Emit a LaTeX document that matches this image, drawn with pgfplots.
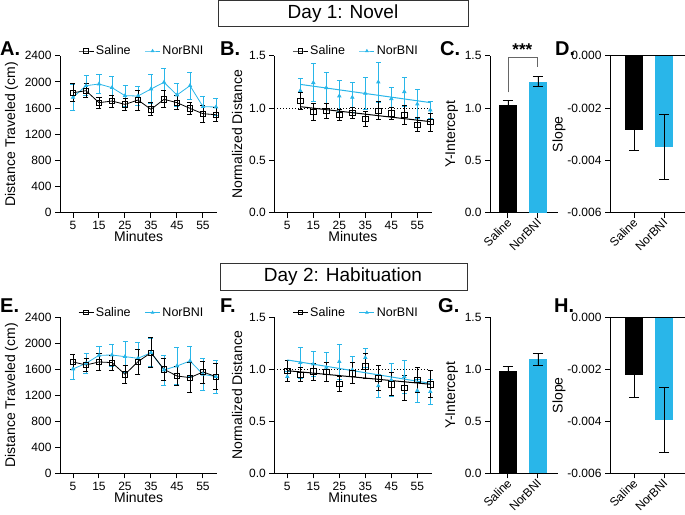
\documentclass[border=0pt]{standalone}
\usepackage{fontspec}
\setmainfont{Liberation Sans}
\usepackage{pgfplots}
\pgfplotsset{compat=1.18}
\usepackage{pgfplotstable}
\definecolor{nb}{RGB}{41,182,233}

\pgfplotstableread{
x y e
5 1834 140
10 1865 110
15 1682 85
20 1707 90
25 1656 95
30 1722 155
35 1580 100
40 1733 130
45 1682 105
50 1595 90
55 1513 125
60 1498 105
}\ASal
\pgfplotstableread{
x y e
5 1763 200
10 1942 150
15 1967 150
20 1911 165
25 1789 160
30 1784 150
35 1891 220
40 1993 210
45 1799 170
50 1942 210
55 1621 150
60 1616 130
}\ANor
\pgfplotstableread{
x y e
10 1.067 0.08
15 0.965 0.08
20 0.971 0.07
25 0.933 0.05
30 0.955 0.05
35 0.895 0.07
40 0.975 0.085
45 0.949 0.06
50 0.933 0.09
55 0.841 0.065
60 0.866 0.085
}\BSal
\pgfplotstableread{
x y e
10 1.166 0.12
15 1.242 0.18
20 1.194 0.15
25 1.115 0.15
30 1.102 0.14
35 1.140 0.15
40 1.248 0.19
45 1.089 0.11
50 1.156 0.14
55 1.038 0.14
60 0.981 0.08
}\BNor
\pgfplotstableread{
x y e
5 1713 120
10 1667 100
15 1713 125
20 1703 115
25 1523 140
30 1718 190
35 1856 230
40 1600 165
45 1497 150
50 1472 230
55 1559 170
60 1487 200
}\ESal
\pgfplotstableread{
x y e
5 1605 155
10 1692 150
15 1815 140
20 1820 170
25 1795 235
30 1769 240
35 1856 215
40 1590 230
45 1651 280
50 1728 230
55 1523 250
60 1487 250
}\ENor
\pgfplotstableread{
x y e
5 0.987 0.10
10 0.949 0.07
15 0.978 0.08
20 0.974 0.09
25 0.859 0.075
30 0.962 0.10
35 1.029 0.12
40 0.913 0.12
45 0.856 0.11
50 0.824 0.12
55 0.897 0.12
60 0.856 0.13
}\FSal
\pgfplotstableread{
x y e
5 0.929 0.05
10 1.064 0.15
15 1.051 0.12
20 1.019 0.14
25 1.074 0.17
30 0.994 0.13
35 1.112 0.09
40 0.840 0.11
45 0.897 0.16
50 0.929 0.16
55 0.795 0.11
60 0.785 0.12
}\FNor

\pgfplotsset{
  gp/.style={scale only axis, axis lines=left, axis line style={-, line width=1pt},
    tick align=outside, major tick length=5pt, tick style={line width=1pt, black},
    font=\fontsize{12}{14}\selectfont,
    label style={font=\fontsize{14}{16}\selectfont},
    /pgf/number format/assume math mode=true, /pgf/number format/1000 sep={},
    clip=false, scaled y ticks=false},
  lineplot/.style={gp, width=157.3pt, xmin=0, xmax=60.5, xtick={5,15,...,55},
    xlabel={Minutes}, xlabel style={yshift=5pt},
    legend style={draw=none, fill=none, at={(0.52,1.03)}, anchor=center,
      legend columns=2, font=\fontsize{12.5}{14}\selectfont,
      /tikz/every even column/.append style={column sep=12pt}},
    legend cell align=left,
    legend image code/.code={\draw[mark repeat=2, mark phase=2, ##1]
      plot coordinates {(0pt,0pt) (7.5pt,0pt) (15pt,0pt)};}},
  barplot/.style={gp, xtick={0,1}, xticklabels={Saline,NorBNI},
    xticklabel style={rotate=45, anchor=east, inner sep=1pt, yshift=-3pt},
    ybar, bar width=18pt, bar shift=0pt},
  salline/.style={black, line width=0.8pt, mark=square, mark size=2.7pt,
    mark options={fill=white, solid}},
  norline/.style={nb, line width=0.8pt, mark=triangle*, mark size=1.8pt,
    mark options={fill=nb, solid}},
  sallegend/.style={black, line width=0.8pt, mark=square, mark size=2.2pt,
    mark options={fill=white, solid}},
  norlegend/.style={nb, line width=0.8pt, mark=triangle*, mark size=1.4pt,
    mark options={fill=nb, solid}},
  ebars/.style={error bars/.cd, y dir=both, y explicit,
    error bar style={line width=0.8pt},
    error mark options={rotate=90, mark size=2.5pt, line width=0.8pt}},
  bebars/.style={error bars/.cd, y dir=both, y explicit,
    error bar style={line width=0.8pt, black},
    error mark options={rotate=90, mark size=5pt, line width=0.8pt, black}},
}

\begin{document}
\begin{tikzpicture}[x=1pt,y=1pt]
\useasboundingbox (0,0) rectangle (685,-514);

% titles
\draw[line width=0.8pt, black!80] (218,-0.7) rectangle (468,-26);
\node[font=\fontsize{19}{22}\selectfont] at (343,-13.5) {Day 1: Novel};
\draw[line width=0.8pt, black!80] (220,-263.3) rectangle (467,-290);
\node[font=\fontsize{19}{22}\selectfont] at (343,-277) {Day 2: Habituation};

% panel letters
\foreach \l/\x/\y in {A/0/55,B/220/55,C/440/55,D/555/55,E/0/312,F/220/312,G/438/312,H/554/312}
  \node[anchor=base west, inner sep=0pt, font=\fontsize{20}{22}\selectfont\bfseries] at (\x,-\y) {\l.};

% ---------- A ----------
\begin{axis}[lineplot, at={(60pt,-212.7pt)}, anchor=south west, height=157pt,
  ymin=0, ymax=2400, ytick={0,400,...,2400}, ylabel={Distance Traveled (cm)}]
\addlegendimage{sallegend}\addlegendentry{Saline}
\addlegendimage{norlegend}\addlegendentry{NorBNI}
\addplot[norline, forget plot, ebars] table[x=x,y=y,y error=e] {\ANor};
\addplot[salline, forget plot, ebars] table[x=x,y=y,y error=e] {\ASal};
\end{axis}

% ---------- B ----------
\begin{axis}[lineplot, at={(274.3pt,-212.7pt)}, anchor=south west, height=157pt,
  ymin=0, ymax=1.5, ytick={0,0.5,1,1.5}, ylabel={Normalized Distance},
  yticklabel style={/pgf/number format/.cd, fixed, fixed zerofill, precision=1}]
\addlegendimage{sallegend}\addlegendentry{Saline}
\addlegendimage{norlegend}\addlegendentry{NorBNI}
\addplot[black, dotted, line width=1pt, forget plot] coordinates {(0,1) (60,1)};
\addplot[norline, only marks, forget plot, ebars] table[x=x,y=y,y error=e] {\BNor};
\addplot[salline, only marks, forget plot, ebars] table[x=x,y=y,y error=e] {\BSal};
\addplot[nb, line width=1pt, forget plot] coordinates {(10,1.226) (60,1.052)};
\addplot[black, line width=1pt, forget plot] coordinates {(10,1.013) (60,0.870)};
\end{axis}

% ---------- C ----------
\begin{axis}[barplot, at={(490pt,-212.7pt)}, anchor=south west, width=68pt, height=157pt,
  xmin=-0.6, xmax=1.67, ymin=0, ymax=1.5, ytick={0,0.5,1,1.5}, ylabel={Y-Intercept},
  yticklabel style={/pgf/number format/.cd, fixed, fixed zerofill, precision=1}]
\addplot[fill=black, draw=none, bebars] coordinates {(0,1.029) +- (0,0.04)};
\addplot[fill=nb, draw=none, bebars] coordinates {(1,1.252) +- (0,0.05)};
\draw[line width=0.9pt, black!60] (axis cs:0,1.15) -- (axis cs:0,1.48) -- (axis cs:1,1.48) -- (axis cs:1,1.39);
\node[font=\fontsize{17}{18}\selectfont\bfseries] at (axis cs:0.48,1.555) {***};
\end{axis}

% ---------- D ----------
\begin{axis}[barplot, at={(610pt,-212.7pt)}, anchor=south west, width=75pt, height=157pt,
  xmin=-0.8, xmax=1.7, ymin=-0.006, ymax=0, ytick={-0.006,-0.004,-0.002,0}, ylabel={Slope},
  ylabel style={xshift=0pt, yshift=-5pt},
  yticklabel style={/pgf/number format/.cd, fixed, fixed zerofill, precision=3}]
\addplot[fill=black, draw=none, bebars] coordinates {(0,-0.00284) +- (0,0.00078)};
\addplot[fill=nb, draw=none, bebars] coordinates {(1,-0.00348) +- (0,0.00125)};
\draw[line width=1pt] (rel axis cs:0,1) -- (rel axis cs:1,1);
\end{axis}

% ---------- E ----------
\begin{axis}[lineplot, at={(60pt,-473.3pt)}, anchor=south west, height=156pt,
  ymin=0, ymax=2400, ytick={0,400,...,2400}, ylabel={Distance Traveled (cm)}]
\addlegendimage{sallegend}\addlegendentry{Saline}
\addlegendimage{norlegend}\addlegendentry{NorBNI}
\addplot[norline, forget plot, ebars] table[x=x,y=y,y error=e] {\ENor};
\addplot[salline, forget plot, ebars] table[x=x,y=y,y error=e] {\ESal};
\end{axis}

% ---------- F ----------
\begin{axis}[lineplot, at={(274.3pt,-473.3pt)}, anchor=south west, height=156pt,
  ymin=0, ymax=1.5, ytick={0,0.5,1,1.5}, ylabel={Normalized Distance},
  yticklabel style={/pgf/number format/.cd, fixed, fixed zerofill, precision=1}]
\addlegendimage{sallegend}\addlegendentry{Saline}
\addlegendimage{norlegend}\addlegendentry{NorBNI}
\addplot[black, dotted, line width=1pt, forget plot] coordinates {(0,1) (60,1)};
\addplot[norline, only marks, forget plot, ebars] table[x=x,y=y,y error=e] {\FNor};
\addplot[salline, only marks, forget plot, ebars] table[x=x,y=y,y error=e] {\FSal};
\addplot[nb, line width=1pt, forget plot] coordinates {(5,1.09) (60,0.865)};
\addplot[black, line width=1pt, forget plot] coordinates {(5,0.987) (60,0.856)};
\end{axis}

% ---------- G ----------
\begin{axis}[barplot, at={(490pt,-473.3pt)}, anchor=south west, width=68pt, height=156pt,
  xmin=-0.6, xmax=1.67, ymin=0, ymax=1.5, ytick={0,0.5,1,1.5}, ylabel={Y-Intercept},
  yticklabel style={/pgf/number format/.cd, fixed, fixed zerofill, precision=1}]
\addplot[fill=black, draw=none, bebars] coordinates {(0,0.987) +- (0,0.04)};
\addplot[fill=nb, draw=none, bebars] coordinates {(1,1.096) +- (0,0.055)};
\end{axis}

% ---------- H ----------
\begin{axis}[barplot, at={(610pt,-473.3pt)}, anchor=south west, width=75pt, height=156pt,
  xmin=-0.8, xmax=1.7, ymin=-0.006, ymax=0, ytick={-0.006,-0.004,-0.002,0}, ylabel={Slope},
  ylabel style={xshift=0pt, yshift=-5pt},
  yticklabel style={/pgf/number format/.cd, fixed, fixed zerofill, precision=3}]
\addplot[fill=black, draw=none, bebars] coordinates {(0,-0.00222) +- (0,0.00087)};
\addplot[fill=nb, draw=none, bebars] coordinates {(1,-0.00395) +- (0,0.00125)};
\draw[line width=1pt] (rel axis cs:0,1) -- (rel axis cs:1,1);
\end{axis}
\end{tikzpicture}
\end{document}
